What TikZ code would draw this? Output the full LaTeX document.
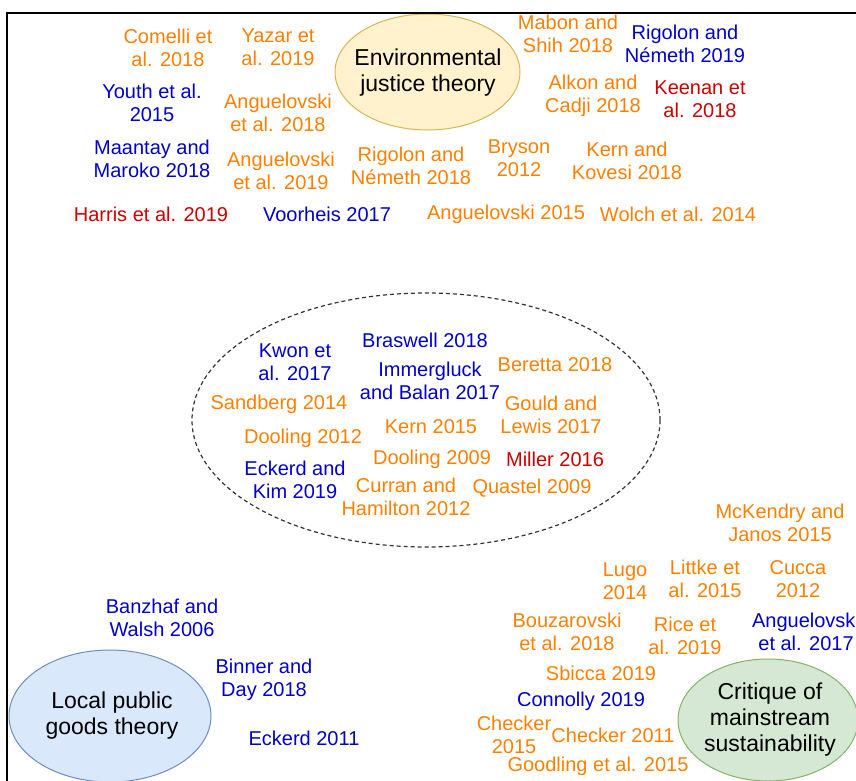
\documentclass[tikz,border=0pt]{standalone}
\usepackage{fontspec}
\setmainfont{Liberation Sans}
\usetikzlibrary{positioning}
\definecolor{reforange}{HTML}{FF8000}
\definecolor{refblue}{HTML}{0000CC}
\definecolor{refred}{HTML}{CC0000}
\definecolor{ejfill}{HTML}{FFF2CC}
\definecolor{ejdraw}{HTML}{D6B656}
\definecolor{lpfill}{HTML}{DAE8FC}
\definecolor{lpdraw}{HTML}{6C8EBF}
\definecolor{cmfill}{HTML}{D5E8D4}
\definecolor{cmdraw}{HTML}{82B366}

\begin{document}
\begin{tikzpicture}[
    x=1pt, y=-1pt,
    ref/.style        ={align=center, inner sep=0pt, font=\fontsize{20}{23}\selectfont},
    oref/.style       ={ref, text=reforange},
    bref/.style       ={ref, text=refblue},
    rref/.style       ={ref, text=refred},
    theorytext/.style ={align=center, inner sep=0pt, font=\fontsize{23}{26}\selectfont},
  ]
  \useasboundingbox (0,0) rectangle (856,781);
  \clip (0,0) rectangle (856,781);

  % ---- theory ellipses ----
  \draw[fill=ejfill, draw=ejdraw, line width=1pt] (427.5,72) ellipse [x radius=92.5pt, y radius=58pt];
  \draw[fill=lpfill, draw=lpdraw, line width=1pt] (110,716) ellipse [x radius=101pt, y radius=66pt];
  \draw[fill=cmfill, draw=cmdraw, line width=1pt] (768,720) ellipse [x radius=90pt, y radius=61pt];
  \draw[black!80, line width=1.2pt, dash pattern=on 4pt off 3pt] (426,420) ellipse [x radius=234pt, y radius=127pt];

  % ---- frame (open at right and bottom) ----
  \draw[line width=2.2pt] (7,781) -- (7,13) -- (856,13);

  \node[theorytext] (ejt) at (428,73)  {Environmental\\justice theory};
  \node[theorytext] (lpg) at (112,716) {Local public\\goods theory};
  \node[theorytext] (cms) at (770,720) {Critique of\\mainstream\\sustainability};

  % ---- environmental justice group ----
  \node[oref] (comelli)   at (168,48)  {Comelli et\\al. 2018};
  \node[oref] (yazar)     at (278,47)  {Yazar et\\al. 2019};
  \node[bref] (youth)     at (152,103) {Youth et al.\\2015};
  \node[oref] (angue18)   at (278,113) {Anguelovski\\et al. 2018};
  \node[bref] (maantay)   at (152,159) {Maantay and\\Maroko 2018};
  \node[oref] (angue19)   at (281,171) {Anguelovski\\et al. 2019};
  \node[oref] (rigolon18) at (411,166) {Rigolon and\\Németh 2018};
  \node[rref] (harris)    at (151,214) {Harris et al. 2019};
  \node[bref] (voorheis)  at (327,214) {Voorheis 2017};
  \node[oref] (angue15)   at (506,214) {Anguelovski 2015};
  \node[oref] (wolch)     at (678,214) {Wolch et al. 2014};
  \node[oref] (mabon)     at (568,34)  {Mabon and\\Shih 2018};
  \node[bref] (rigolon19) at (685,44)  {Rigolon and\\Németh 2019};
  \node[oref] (alkon)     at (593,96)  {Alkon and\\Cadji 2018};
  \node[rref] (keenan)    at (700,99)  {Keenan et\\al. 2018};
  \node[oref] (bryson)    at (519,158) {Bryson\\2012};
  \node[oref] (kernkov)   at (627,161) {Kern and\\Kovesi 2018};

  % ---- dashed middle group ----
  \node[bref] (braswell)  at (425,340) {Braswell 2018};
  \node[bref] (kwon)      at (295,362) {Kwon et\\al. 2017};
  \node[bref] (immerg)    at (430,381) {Immergluck\\and Balan 2017};
  \node[oref] (beretta)   at (555,365) {Beretta 2018};
  \node[oref] (sandberg)  at (279,404) {Sandberg 2014};
  \node[oref] (gould)     at (551,415) {Gould and\\Lewis 2017};
  \node[oref] (kern15)    at (431,427) {Kern 2015};
  \node[oref] (dool12)    at (303,438) {Dooling 2012};
  \node[oref] (dool09)    at (432,459) {Dooling 2009};
  \node[rref] (miller)    at (555,459) {Miller 2016};
  \node[bref] (eckkim)    at (295,480) {Eckerd and\\Kim 2019};
  \node[oref] (curran)    at (406,497) {Curran and\\Hamilton 2012};
  \node[oref] (quastel)   at (532,488) {Quastel 2009};

  % ---- local public goods group ----
  \node[bref] (banzhaf)   at (162,618) {Banzhaf and\\Walsh 2006};
  \node[bref] (binner)    at (264,680) {Binner and\\Day 2018};
  \node[bref] (eckerd11)  at (304,738) {Eckerd 2011};

  % ---- mainstream sustainability group ----
  \node[oref] (mckendry)  at (780,523) {McKendry and\\Janos 2015};
  \node[oref] (lugo)      at (625,581) {Lugo\\2014};
  \node[oref] (littke)    at (705,579) {Littke et\\al. 2015};
  \node[oref] (cucca)     at (798,579) {Cucca\\2012};
  \node[oref] (bouzar)    at (567,632) {Bouzarovski\\et al. 2018};
  \node[oref] (rice)      at (685,636) {Rice et\\al. 2019};
  \node[bref] (angue17)   at (806,632) {Anguelovski\\et al. 2017};
  \node[oref] (sbicca)    at (601,673) {Sbicca 2019};
  \node[bref] (connolly)  at (581,701) {Connolly 2019};
  \node[oref] (check15)   at (514,735) {Checker\\2015};
  \node[oref] (check11)   at (613,735) {Checker 2011};
  \node[oref] (goodling)  at (598,766) {Goodling et al. 2015};
\end{tikzpicture}
\end{document}
